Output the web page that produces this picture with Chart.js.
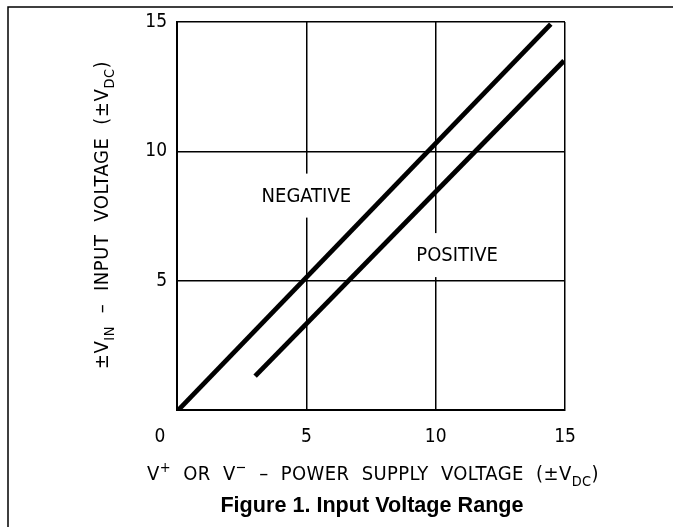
<!DOCTYPE html>
<html>
<head>
<meta charset="utf-8">
<script src="https://cdn.jsdelivr.net/npm/chart.js@4.4.1/dist/chart.umd.min.js"></script>
<style>
  body { margin: 0; background: #fff; }
  canvas { display: block; }
</style>
</head>
<body>
<canvas id="chart" width="673" height="527"></canvas>
<script>
// curve end points (x = supply voltage, y = input voltage)
const negativeX = [0.05, 14.45];
const negativeY = [0, 14.92];
const positiveX = [3.02, 14.96];
const positiveY = [1.31, 13.5];

// axis ticks (same on both axes)
const tickValues = [0, 5, 10, 15];

// curve labels and where they sit (in data units)
const curveLabels = ['NEGATIVE', 'POSITIVE'];
const labelX = [5, 10.83];
const labelY = [8.25, 5.95];

const FONT = '"DejaVu Sans Condensed", "DejaVu Sans", sans-serif';

// draw text made of parts, some of them sub- or superscript
function richWidth(ctx, parts, size) {
  let w = 0;
  parts.forEach(p => {
    const fs = p.s ? size * 0.72 : size;
    ctx.font = fs + 'px ' + FONT;
    w += ctx.measureText(p.t).width;
  });
  return w;
}

function drawRich(ctx, parts, size, x, y) {
  let cx = x;
  parts.forEach(p => {
    const fs = p.s ? size * 0.72 : size;
    ctx.font = fs + 'px ' + FONT;
    let dy = 0;
    if (p.s === 'sub') dy = size * 0.32;
    if (p.s === 'sup') dy = -size * 0.42;
    ctx.fillText(p.t, cx, y + dy);
    cx += ctx.measureText(p.t).width;
  });
}

const xTitle = [
  { t: 'V' }, { t: '+', s: 'sup' }, { t: '  OR  V' }, { t: '\u2212', s: 'sup' },
  { t: '  \u2013  POWER  SUPPLY  VOLTAGE  (\u00b1V' }, { t: 'DC', s: 'sub' }, { t: ')' }
];
const yTitle = [
  { t: '\u00b1V' }, { t: 'IN', s: 'sub' }, { t: '  \u2013  INPUT  VOLTAGE  (\u00b1V' },
  { t: 'DC', s: 'sub' }, { t: ')' }
];

const decorPlugin = {
  id: 'decor',
  beforeDraw(chart) {
    const ctx = chart.ctx;
    ctx.save();
    ctx.fillStyle = '#fff';
    ctx.fillRect(0, 0, chart.width, chart.height);
    // figure frame (top and left only)
    ctx.strokeStyle = '#000';
    ctx.lineWidth = 1.5;
    ctx.beginPath();
    ctx.moveTo(8, chart.height);
    ctx.lineTo(8, 7);
    ctx.lineTo(chart.width, 7);
    ctx.stroke();
    ctx.restore();
  },
  beforeDatasetsDraw(chart) {
    const ctx = chart.ctx;
    const xs = chart.scales.x, ys = chart.scales.y;
    ctx.save();
    ctx.font = '20px ' + FONT;
    ctx.textAlign = 'center';
    ctx.textBaseline = 'middle';
    curveLabels.forEach((txt, i) => {
      const px = xs.getPixelForValue(labelX[i]);
      const py = ys.getPixelForValue(labelY[i]);
      const w = ctx.measureText(txt).width;
      ctx.fillStyle = '#fff';
      ctx.fillRect(px - w / 2 - 6, py - 23, w + 12, 44);
      ctx.fillStyle = '#000';
      ctx.fillText(txt, px, py);
    });
    ctx.restore();
  },
  afterDraw(chart) {
    const ctx = chart.ctx;
    const xs = chart.scales.x;
    const area = chart.chartArea;
    ctx.save();
    ctx.fillStyle = '#000';
    // shared origin label, set left of the corner
    ctx.font = '19px ' + FONT;
    ctx.textAlign = 'center';
    ctx.textBaseline = 'middle';
    ctx.fillText('0', xs.getPixelForValue(0) - 17, area.bottom + 27);

    // axis titles
    ctx.textAlign = 'left';
    ctx.textBaseline = 'alphabetic';
    const size = 20;
    ctx.letterSpacing = '0.4px';
    const wx = richWidth(ctx, xTitle, size);
    drawRich(ctx, xTitle, size, 373 - wx / 2, 480);

    ctx.letterSpacing = '0.6px';
    const wy = richWidth(ctx, yTitle, size);
    ctx.translate(108, 215);
    ctx.rotate(-Math.PI / 2);
    drawRich(ctx, yTitle, size, -wy / 2, 0);
    ctx.restore();

    // caption
    ctx.save();
    ctx.fillStyle = '#000';
    ctx.font = 'bold 21.6px "Liberation Sans", Arial, sans-serif';
    ctx.textAlign = 'center';
    ctx.textBaseline = 'alphabetic';
    ctx.fillText('Figure 1. Input Voltage Range', 372, 512);
    ctx.restore();
  }
};

function toPoints(xs, ys) {
  return xs.map((x, i) => ({ x: x, y: ys[i] }));
}

const axisCommon = {
  type: 'linear',
  min: 0,
  max: 15,
  afterBuildTicks: scale => { scale.ticks = tickValues.map(v => ({ value: v })); },
  grid: { color: '#000', lineWidth: 1.5, drawTicks: false },
  border: { display: true, color: '#000', width: 2 },
  ticks: {
    color: '#000',
    font: { family: FONT, size: 19 },
    callback: v => (v === 0 ? '' : v)
  }
};

new Chart(document.getElementById('chart'), {
  type: 'scatter',
  data: {
    datasets: [
      {
        label: 'NEGATIVE',
        data: toPoints(negativeX, negativeY),
        showLine: true,
        borderColor: '#000',
        borderWidth: 4.8,
        borderCapStyle: 'butt',
        pointRadius: 0,
        tension: 0
      },
      {
        label: 'POSITIVE',
        data: toPoints(positiveX, positiveY),
        showLine: true,
        borderColor: '#000',
        borderWidth: 4.8,
        borderCapStyle: 'butt',
        pointRadius: 0,
        tension: 0
      }
    ]
  },
  options: {
    responsive: false,
    animation: false,
    layout: { padding: { left: 137, right: 108, top: 22, bottom: 77 } },
    scales: {
      x: Object.assign({}, axisCommon, {
        afterFit: s => { s.height = 40; },
        ticks: Object.assign({}, axisCommon.ticks, { padding: 16, maxRotation: 0 })
      }),
      y: Object.assign({}, axisCommon, {
        afterFit: s => { s.width = 40; },
        ticks: Object.assign({}, axisCommon.ticks, { padding: 10 })
      })
    },
    plugins: {
      legend: { display: false },
      tooltip: { enabled: false }
    }
  },
  plugins: [decorPlugin]
});
</script>
</body>
</html>
